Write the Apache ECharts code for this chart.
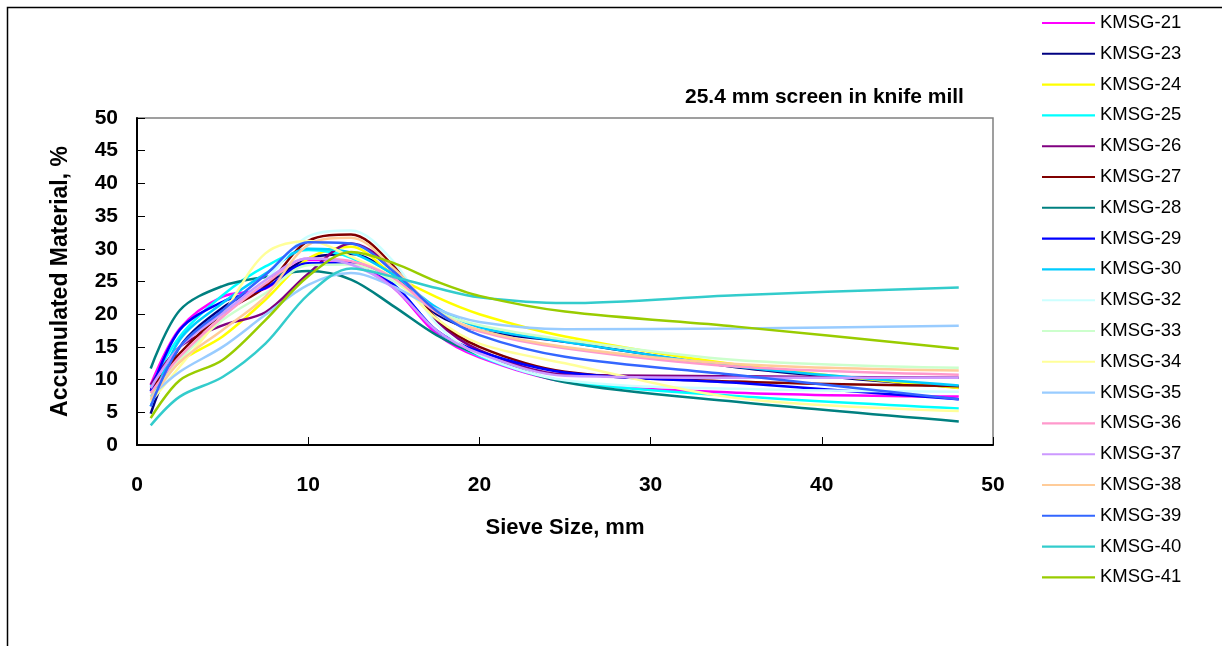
<!DOCTYPE html>
<html>
<head>
<meta charset="utf-8">
<script src="https://cdn.jsdelivr.net/npm/echarts@6/dist/echarts.min.js"></script>
<style>
html,body{margin:0;padding:0;background:#fff;}
#chart{width:1222px;height:646px;}
</style>
</head>
<body>
<div id="chart"></div>
<script>
// Sieve sizes (mm)
var sieveSizes = [0.8, 2.5, 5, 7.5, 10, 12.5, 15, 17.5, 20, 25, 35, 48];
var seriesNames = ['KMSG-21','KMSG-23','KMSG-24','KMSG-25','KMSG-26','KMSG-27','KMSG-28','KMSG-29','KMSG-30','KMSG-32','KMSG-33','KMSG-34','KMSG-35','KMSG-36','KMSG-37','KMSG-38','KMSG-39','KMSG-40','KMSG-41'];
var seriesColors = ['#FF00FF','#000080','#FFFF00','#00FFFF','#800080','#800000','#008080','#0000FF','#00CCFF','#CCFFFF','#CCFFCC','#FFFF99','#99CCFF','#FF99CC','#CC99FF','#FFCC99','#3366FF','#33CCCC','#99CC00'];

var kmsg21 = [9.2, 17.8, 22.7, 23.9, 28.3, 28.0, 24.0, 17.0, 13.4, 9.7, 8.0, 7.4];
var kmsg23 = [4.8, 15.0, 21.0, 24.5, 28.5, 29.2, 26.0, 20.0, 17.5, 15.8, 11.9, 8.8];
var kmsg24 = [7.4, 12.7, 16.6, 22.2, 28.5, 30.3, 26.0, 22.6, 20.0, 16.6, 12.3, 8.7];
var kmsg25 = [8.9, 16.6, 22.9, 27.3, 29.8, 28.6, 24.5, 17.5, 13.6, 9.8, 7.5, 5.6];
var kmsg26 = [9.2, 15.0, 18.3, 20.3, 26.2, 30.8, 27.0, 19.0, 14.5, 10.8, 10.5, 10.3];
var kmsg27 = [8.4, 14.0, 20.1, 24.2, 31.2, 32.2, 27.3, 19.3, 15.0, 11.2, 9.7, 9.0];
var kmsg28 = [11.7, 20.6, 24.3, 25.7, 26.6, 25.3, 21.2, 16.8, 13.8, 9.6, 6.6, 3.6];
var kmsg29 = [8.2, 17.6, 21.9, 24.0, 27.8, 27.8, 24.5, 17.5, 14.3, 11.1, 9.5, 7.0];
var kmsg30 = [5.9, 16.1, 21.7, 26.2, 30.0, 29.4, 26.0, 21.0, 18.0, 15.8, 12.0, 9.1];
var kmsg32 = [6.4, 13.0, 19.6, 25.2, 31.9, 32.8, 28.0, 18.5, 13.8, 9.9, 8.6, 8.15];
var kmsg33 = [7.1, 13.0, 19.1, 23.2, 27.5, 27.6, 25.0, 20.5, 18.3, 16.1, 13.0, 11.8];
var kmsg34 = [6.6, 12.0, 20.0, 29.3, 31.2, 28.8, 25.5, 19.3, 15.5, 12.5, 7.2, 5.2];
var kmsg35 = [7.4, 11.2, 15.0, 19.9, 24.5, 26.3, 24.2, 20.8, 18.8, 17.7, 17.8, 18.25];
var kmsg36 = [7.9, 13.5, 19.6, 24.7, 28.5, 28.1, 25.5, 20.3, 17.4, 14.8, 12.0, 10.75];
var kmsg37 = [8.7, 15.0, 20.1, 25.2, 28.5, 27.6, 24.0, 17.5, 14.0, 10.6, 10.3, 10.3];
var kmsg38 = [6.9, 12.7, 17.6, 22.7, 30.6, 31.7, 27.0, 20.5, 17.6, 15.0, 12.4, 11.4];
var kmsg39 = [5.9, 15.0, 20.6, 26.0, 31.0, 30.8, 26.5, 20.5, 16.8, 13.5, 10.7, 7.0];
var kmsg40 = [3.0, 7.4, 10.4, 15.5, 23.0, 27.0, 25.7, 24.0, 22.6, 21.7, 22.9, 24.1];
var kmsg41 = [4.1, 9.9, 13.0, 19.1, 25.8, 29.5, 27.8, 25.0, 22.8, 20.4, 18.1, 14.7];

var seriesValues = [kmsg21,kmsg23,kmsg24,kmsg25,kmsg26,kmsg27,kmsg28,kmsg29,kmsg30,kmsg32,kmsg33,kmsg34,kmsg35,kmsg36,kmsg37,kmsg38,kmsg39,kmsg40,kmsg41];

var xTicks = [0, 10, 20, 30, 40, 50];
var yTicks = [0, 5, 10, 15, 20, 25, 30, 35, 40, 45, 50];

var FONT = "'Liberation Sans', Arial, sans-serif";

var series = seriesNames.map(function(name, i){
  return {
    name: name,
    type: 'line',
    smooth: 0.33,
    symbol: 'none',
    showSymbol: false,
    lineStyle: {width: 2.5, color: seriesColors[i]},
    itemStyle: {color: seriesColors[i]},
    data: sieveSizes.map(function(x, j){ return [x, seriesValues[i][j]]; })
  };
});

var chart = echarts.init(document.getElementById('chart'), null, {renderer: 'canvas'});
chart.setOption({
  animation: false,
  backgroundColor: '#ffffff',
  title: {
    text: '25.4 mm screen in knife mill',
    left: 685, top: 87,
    padding: 0,
    textStyle: {fontFamily: FONT, fontSize: 21, fontWeight: 'bold', color: '#000'}
  },
  graphic: [{
    type: 'rect', z: -1, silent: true,
    shape: {x: 7.5, y: 7.5, width: 1300, height: 800},
    style: {fill: 'none', stroke: '#000', lineWidth: 1.5}
  }],
  legend: {
    orient: 'vertical',
    left: 1042, top: 13.5,
    itemWidth: 53, itemHeight: 18.5,
    itemGap: 11.8,
    padding: 0,
    icon: 'path://M0,8.2 L53,8.2 L53,10.3 L0,10.3 Z',
    textStyle: {fontFamily: FONT, fontSize: 18.5, color: '#000', lineHeight: 18.5},
    data: seriesNames
  },
  grid: {
    left: 137, top: 118, right: 229, bottom: 201,
    show: true, borderColor: '#808080', borderWidth: 1.5, backgroundColor: 'transparent'
  },
  xAxis: {
    type: 'value', min: 0, max: 50, interval: 10,
    name: 'Sieve Size, mm', nameLocation: 'middle', nameGap: 72,
    nameTextStyle: {fontFamily: FONT, fontSize: 22, fontWeight: 'bold', color: '#000'},
    axisLine: {show: true, lineStyle: {color: '#000', width: 2}},
    axisTick: {show: true, inside: true, length: 8, lineStyle: {color: '#000', width: 1}},
    axisLabel: {margin: 30, fontFamily: FONT, fontSize: 21, fontWeight: 'bold', color: '#000'},
    splitLine: {show: false}
  },
  yAxis: {
    type: 'value', min: 0, max: 50, interval: 5,
    name: 'Accumulated Material, %', nameLocation: 'middle', nameGap: 65,
    nameTextStyle: {fontFamily: FONT, fontSize: 23, fontWeight: 'bold', color: '#000'},
    axisLine: {show: true, lineStyle: {color: '#000', width: 2}},
    axisTick: {show: true, inside: true, length: 8, lineStyle: {color: '#000', width: 1}},
    axisLabel: {margin: 19, fontFamily: FONT, fontSize: 21, fontWeight: 'bold', color: '#000'},
    splitLine: {show: false}
  },
  series: series
});
</script>
</body>
</html>
